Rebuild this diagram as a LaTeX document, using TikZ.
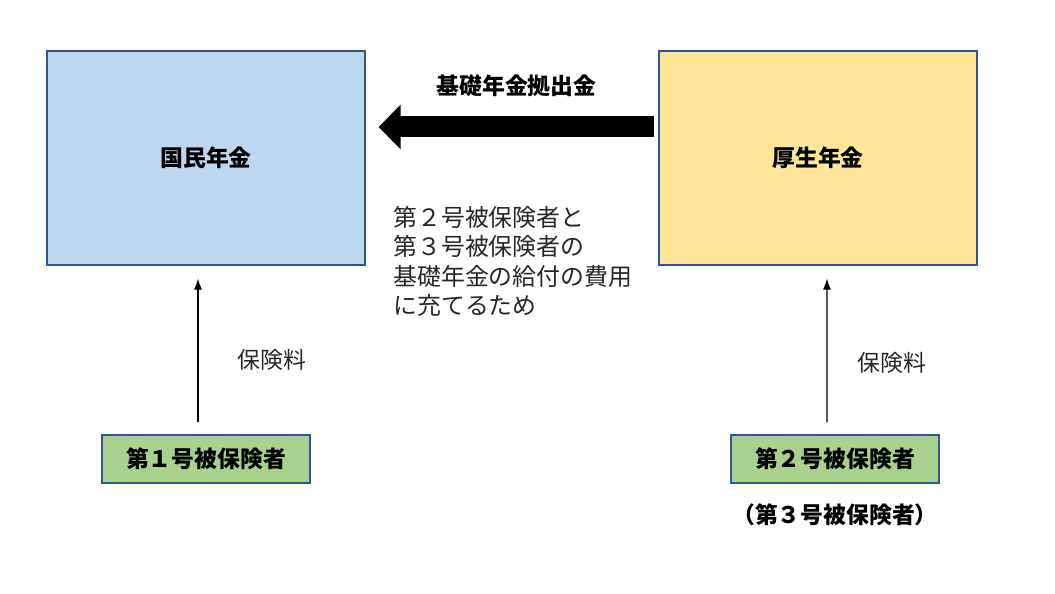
\documentclass[tikz,border=0pt]{standalone}
\usepackage{fontspec}
\setmainfont{Noto Sans CJK JP}
\usetikzlibrary{calc, arrows.meta}
\definecolor{boxblue}{RGB}{189,215,238}
\definecolor{boxyellow}{RGB}{255,230,153}
\definecolor{boxgreen}{RGB}{169,209,142}
\definecolor{lineblue}{RGB}{47,85,151}
\definecolor{textgray}{RGB}{38,38,38}

\begin{document}
\begin{tikzpicture}[every node/.style={font=\fontsize{13}{16.5}\selectfont}]
\tikzstyle{fund} = [rectangle, minimum width=6.36cm, minimum height=4.28cm, text centered, draw=lineblue, line width=.6pt, font=\fontsize{13}{16.5}\selectfont\bfseries]
\tikzstyle{insured} = [rectangle, minimum width=4.16cm, minimum height=.96cm, text centered, draw=lineblue, line width=.6pt, fill=boxgreen, font=\fontsize{13}{16.5}\selectfont\bfseries]
\tikzstyle{note} = [text=textgray, inner sep=0pt]
\useasboundingbox (0, 0) rectangle (21.1, 11.86);

\node (kokumin) [fund, fill=boxblue] at (4.12, 8.7) {国民年金};
\node (kosei) [fund, fill=boxyellow] at (16.36, 8.7) {厚生年金};

\node (ins1) [insured] at (4.12, 2.68) {第１号被保険者};
\node (ins2) [insured] at (16.7, 2.68) {第２号被保険者};
\node (ins3) [font=\fontsize{13}{16.5}\selectfont\bfseries, below of=ins2, yshift=-.12cm] {（第３号被保険者）};

\draw[-{Triangle[length=.44cm, width=.86cm]}, line width=.42cm] ($(kosei.west) + (-.08, .62)$) -- node[midway, yshift=.82cm, font=\fontsize{13}{16.5}\selectfont\bfseries] (kisokin) {基礎年金拠出金} ($(kokumin.east) + (.26, .62)$);

\node (reason) [note, anchor=west, align=left, font=\fontsize{13.6}{16.7}\selectfont] at (7.86, 6.63) {第２号被保険者と\\第３号被保険者の\\基礎年金の給付の費用\\に充てるため};

\draw[-{Latex[length=2.2mm, width=1.6mm]}, line width=.25mm] ($(ins1.north) + (-.16, .24)$) -- ($(kokumin.south) + (-.16, -.26)$);
\draw[-{Latex[length=2.2mm, width=1.6mm]}, line width=.25mm] ($(ins2.north) + (-.16, .24)$) -- ($(kosei.south) + (.18, -.26)$);

\node (fee1) [note] at (5.44, 4.66) {保険料};
\node (fee2) [note] at (17.84, 4.6) {保険料};

\end{tikzpicture}
\end{document}
